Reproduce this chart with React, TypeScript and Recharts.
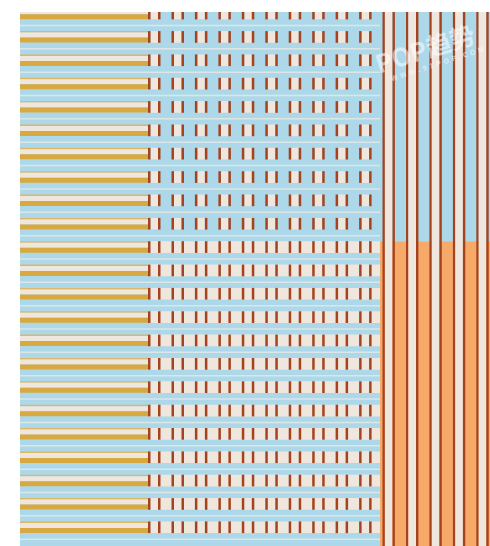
import React from 'react';
import { ComposedChart, XAxis, YAxis, ReferenceArea, Scatter } from 'recharts';

// top edge of each horizontal band (cream + gold)
const rowTops = [7.7, 31.1, 54.4, 77.8, 101.1, 124.5, 147.8, 171.2, 194.5, 217.9, 241.2, 264.6, 287.9, 311.3, 334.6, 358.0, 381.3, 404.7, 428.0, 451.4, 474.7, 498.1, 521.4];
// left edge of each pair of brown ticks in the middle block
const midPairs = [148, 171.5, 194.9, 218.4, 241.8, 265.3, 288.7, 312.2, 335.6, 359.1];
// left edge of each vertical stripe pair in the right block
const rightPairs = [382.5, 406, 429.4, 452.9, 476.3];
const corners = [{ x: 0, y: 0 }, { x: 490, y: 546 }];

const W = 490;
const H = 546;
const TOP = 12;
const BOTTOM = 546;
const LEFT = 20;
const MID = 148;
const RIGHT = 380;
const SPLIT = 241.5;

const C = {
    blue: '#acd8ea',
    cream: '#efe6de',
    gold: '#d9a941',
    goldLine: '#dcb866',
    brown: '#a3441f',
    orange: '#f7a96a',
    light: '#dde6e6',
};

const App: React.FC = () => {
    const areas: React.ReactElement[] = [];
    const add = (x1: number, x2: number, y1: number, y2: number, fill: string) => {
        const a = Math.max(TOP, y1);
        const b = Math.min(BOTTOM, y2);
        if (b <= a) return;
        areas.push(
            <ReferenceArea
                key={areas.length}
                x1={x1}
                x2={x2}
                y1={a}
                y2={b}
                fill={fill}
                fillOpacity={1}
                stroke="none"
                ifOverflow="visible"
            />
        );
    };

    // backgrounds
    add(LEFT, W, TOP, BOTTOM, C.blue);
    add(RIGHT, W, SPLIT, BOTTOM, C.orange);

    rowTops.forEach((b) => {
        // left block: gold / cream stripes
        add(LEFT, MID, b, b + 1.5, C.goldLine);
        add(LEFT, MID, b + 1.5, b + 6.5, C.cream);
        add(LEFT, MID, b + 6.5, b + 11.5, C.gold);
        add(LEFT, RIGHT, b + 17, b + 18.5, C.light);

        // middle block
        if (b >= SPLIT - 1) add(MID, RIGHT, b, b + 11.7, C.cream);
        midPairs.forEach((c) => {
            add(c + 2.5, c + 10, b, b + 11.7, C.cream);
            add(c, c + 2.5, b, b + 11.7, C.brown);
            add(c + 10, c + 12.5, b, b + 11.7, C.brown);
        });
    });

    // right block: vertical stripes
    rightPairs.forEach((c) => {
        add(c, c + 2.4, TOP, BOTTOM, C.brown);
        add(c + 2.4, c + 10, TOP, BOTTOM, C.cream);
        add(c + 10, c + 12.4, TOP, BOTTOM, C.brown);
    });

    return (
        <div style={{ position: 'absolute', left: 0, top: 0, width: W, height: H, background: '#fff', overflow: 'hidden' }}>
            <ComposedChart width={W} height={H} data={corners} margin={{ top: 0, right: 0, bottom: 0, left: 0 }}>
                <XAxis type="number" dataKey="x" domain={[0, W]} hide allowDataOverflow />
                <YAxis type="number" dataKey="y" domain={[0, H]} reversed hide allowDataOverflow />
                {areas}
                <Scatter dataKey="y" fill="none" isAnimationActive={false} />
            </ComposedChart>
            {/* watermark */}
            <div
                style={{
                    position: 'absolute',
                    left: 372,
                    top: 52,
                    transform: 'rotate(-18deg)',
                    transformOrigin: 'left top',
                    color: 'rgba(255,255,255,0.55)',
                    fontFamily: '"Noto Sans CJK SC", "Noto Sans", sans-serif',
                    fontWeight: 700,
                    fontSize: 25,
                    whiteSpace: 'nowrap',
                    lineHeight: 1,
                }}
            >
                POP趋势
                <div style={{ fontSize: 7, letterSpacing: 3, marginTop: 3, marginLeft: 10 }}>WWW.91POP.COM</div>
            </div>
        </div>
    );
};

export default App;
